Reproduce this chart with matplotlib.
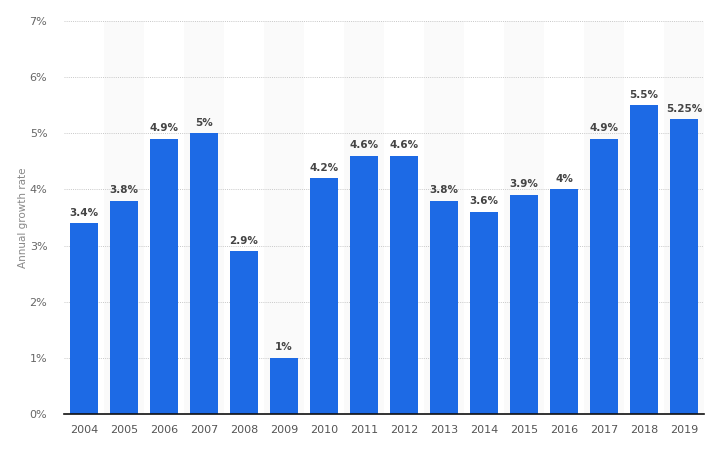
import matplotlib
matplotlib.use("Agg")
import matplotlib.pyplot as plt

years = ["2004", "2005", "2006", "2007", "2008", "2009", "2010", "2011",
         "2012", "2013", "2014", "2015", "2016", "2017", "2018", "2019"]
growth = [3.4, 3.8, 4.9, 5.0, 2.9, 1.0, 4.2, 4.6, 4.6, 3.8, 3.6, 3.9, 4.0, 4.9, 5.5, 5.25]
labels = ["3.4%", "3.8%", "4.9%", "5%", "2.9%", "1%", "4.2%", "4.6%",
          "4.6%", "3.8%", "3.6%", "3.9%", "4%", "4.9%", "5.5%", "5.25%"]
yticks = [0, 1, 2, 3, 4, 5, 6, 7]

fig = plt.figure(figsize=(7.14, 4.51), dpi=100)
ax = fig.add_axes([64 / 714, 37 / 451, 640 / 714, 393 / 451])

x = list(range(len(years)))

# alternating column shading
for i in x:
    if i % 2 == 1:
        ax.axvspan(i - 0.5, i + 0.5, color="#fafafa", zorder=0, lw=0)

for t in yticks[1:]:
    ax.axhline(t, color="#c8c8c8", lw=0.7, ls=(0, (1, 1.2)), zorder=1)

ax.bar(x, growth, width=0.7, color="#1d6ae5", zorder=2)

for xi, v, lab in zip(x, growth, labels):
    ax.text(xi, v + 0.1, lab, ha="center", va="bottom", fontsize=7.5,
            fontweight="bold", color="#444444", zorder=3)

ax.set_xlim(-0.5, len(years) - 0.5)
ax.set_ylim(0, 7)
ax.set_xticks(x)
ax.set_xticklabels(years, fontsize=8, color="#555555")
ax.set_yticks(yticks)
ax.set_yticklabels([f"{t}%" for t in yticks], fontsize=8, color="#666666")
ax.tick_params(axis="both", length=0)
ax.tick_params(axis="x", pad=8)
ax.tick_params(axis="y", pad=12)

for side in ["top", "right", "left"]:
    ax.spines[side].set_visible(False)
ax.spines["bottom"].set_color("#111111")
ax.spines["bottom"].set_linewidth(1.2)

ax.set_ylabel("Annual growth rate", fontsize=7.5, color="#888888")
ax.yaxis.set_label_coords(-0.057, 0.5)

fig.savefig("out.png", dpi=100)
